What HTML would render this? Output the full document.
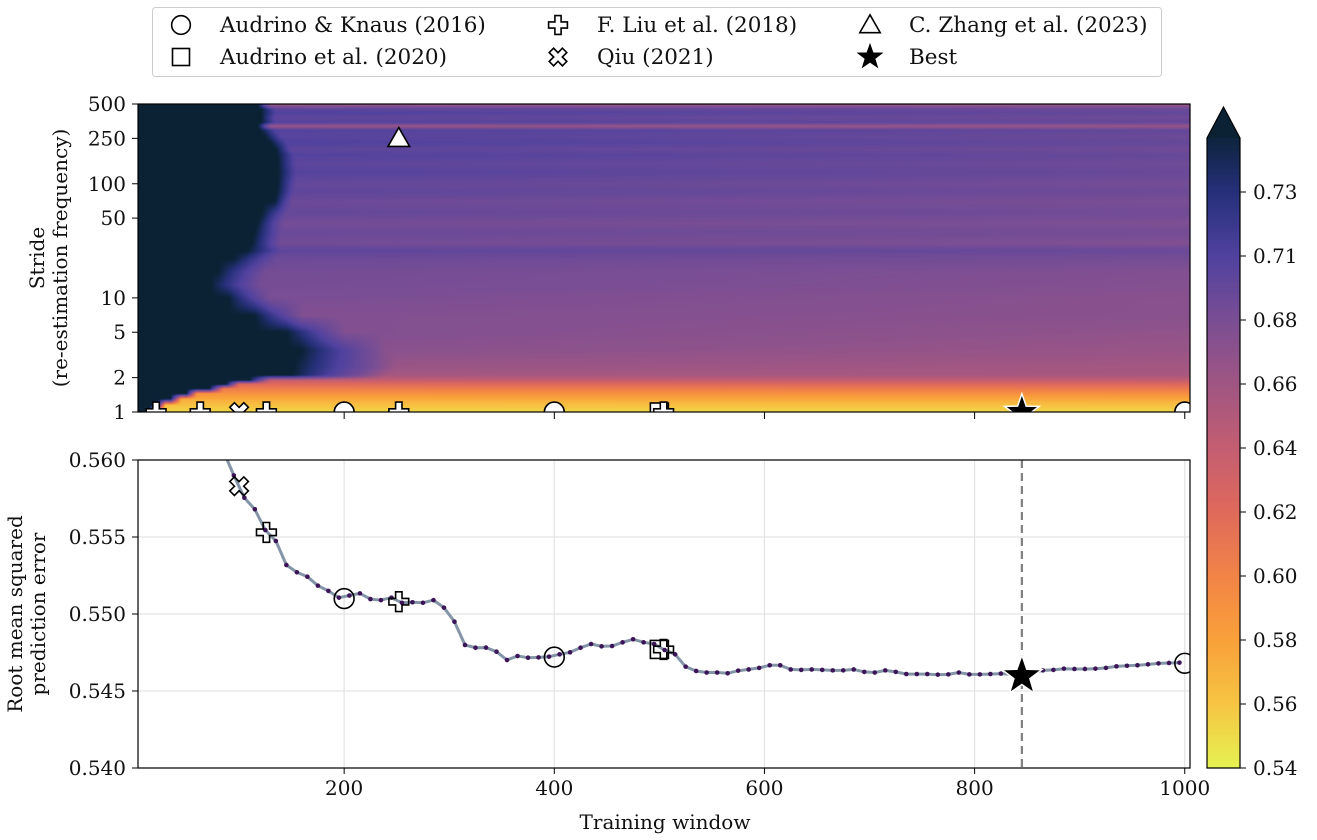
<!DOCTYPE html>
<html><head><meta charset="utf-8">
<style>
html,body{margin:0;padding:0;background:#fff;}
#wrap{position:relative;width:1317px;height:840px;overflow:hidden;font-family:"DejaVu Serif","Liberation Serif",serif;}
#heat{position:absolute;left:138px;top:104px;}
#svg{position:absolute;left:0;top:0;}
text{font-family:"DejaVu Serif","Liberation Serif",serif;font-size:20px;fill:#111;}
text.lg{font-size:21.5px;}
</style></head>
<body>
<div id="wrap">
<canvas id="heat" width="1052" height="308"></canvas>
<svg id="svg" width="1317" height="840" xmlns="http://www.w3.org/2000/svg">
  <defs>
    <clipPath id="clipTop"><rect x="138" y="104" width="1052" height="308"/></clipPath>
    <clipPath id="clipBot"><rect x="138" y="460" width="1052" height="308"/></clipPath>
  </defs>
  <g id="legend"></g>
  <g id="topAxes"></g>
  <g id="botAxes"></g>
  <g id="cbar"></g>
</svg>
</div>
<script>
// ---------- DATA ----------
const xTicks = [200, 400, 600, 800, 1000];
const strideTicks = [1, 2, 5, 10, 50, 100, 250, 500];
const rmseTicks = [0.540, 0.545, 0.550, 0.555, 0.560];
const cbarTicks = ["0.54","0.56","0.58","0.60","0.62","0.64","0.66","0.68","0.71","0.73"];
const cmapVals = [0.54,0.56,0.58,0.60,0.62,0.64,0.66,0.68,0.71,0.73,0.747];
const cmapCols = ["#e6f352","#f6c543","#f9a13a","#f28447","#e06a5b","#c45e72","#a05683","#7a4e94","#50429f","#26307a","#0a2233"];
// heatmap rows (stride): dark-region edge window, transition end window, value near edge, value at far right
const rowStride = [1,1.15,1.3,1.45,1.6,1.75,1.9,2.1,2.5,3.5,5,7,10,13,17,22,26,30,38,45,55,70,85,100,125,150,180,200,230,260,295,320,345,380,420,450,485,500];
const rowEdge   = [15,22,35,50,72,88,110,150,152,159,145,115,90,73,80,95,108,112,115,118,122,134,136,137,137,137,136,135,130,125,120,118,121,121,121,121,118,118];
const rowTrans  = [20,30,45,60,85,100,130,240,250,239,200,160,130,120,125,135,140,140,140,142,145,150,152,155,155,155,152,150,145,140,135,130,135,135,135,135,130,130];
const rowNear   = [0.552,0.562,0.575,0.59,0.605,0.62,0.64,0.657,0.663,0.672,0.676,0.676,0.68,0.683,0.684,0.69,0.70,0.686,0.692,0.684,0.695,0.69,0.70,0.695,0.706,0.70,0.708,0.70,0.71,0.705,0.708,0.662,0.708,0.70,0.71,0.702,0.668,0.668];
const rowFar    = [0.552,0.562,0.577,0.592,0.608,0.622,0.64,0.655,0.658,0.664,0.668,0.672,0.672,0.675,0.676,0.683,0.692,0.676,0.684,0.677,0.686,0.68,0.689,0.684,0.692,0.688,0.694,0.687,0.695,0.69,0.696,0.662,0.695,0.688,0.696,0.69,0.668,0.668];
const darkVal = 0.747;
// bottom line: RMSE vs training window (stride 1)
const lineWindows = [];
for (let w = 85; w <= 995; w += 10) lineWindows.push(w);
const lineRmse = [0.5606,
 0.5590,0.55755,0.5568,0.55545,0.55474,0.55318,0.55271,0.55242,0.55184,0.5515,
 0.55106,0.5512,0.55134,0.55097,0.5509,0.55106,0.55073,0.55076,0.55073,0.5509,
 0.55041,0.5495,0.54799,0.54781,0.54782,0.54755,0.54701,0.54727,0.54716,0.54718,
 0.54723,0.54738,0.54751,0.54781,0.54805,0.5479,0.54792,0.54816,0.54836,0.54816,
 0.54805,0.54766,0.54738,0.54658,0.5463,
 0.5462,0.5462,0.54615,0.54632,0.5464,0.5465,0.54667,0.54667,0.5464,0.54637,
 0.5464,0.54637,0.54634,0.54634,0.5464,0.54624,0.5462,0.54634,0.54624,0.5461,
 0.5461,0.5461,0.54606,0.54608,0.5462,0.54608,0.54608,0.5461,0.54613,0.54608,
 0.54605,0.5462,0.54634,0.54637,0.54645,0.54643,0.54643,0.54645,0.5465,0.5466,
 0.54664,0.54667,0.54673,0.54679,0.54682,0.54684];
// literature markers
const litNames = ["circle","circle","circle","square","plus","plus","plus","plus","plus","x","triangle","star"];
const litWindow = [200,400,1000,500,21,63,126,252,504,100,252,845];
const litStride = [1,1,1,1,1,1,1,1,1,1,250,1];
const litRmse   = [0.5510,0.5472,0.5468,0.5477,null,null,0.5553,0.5508,0.5477,0.5583,null,0.54597];
const bestWindow = 845;

// ---------- SCALES ----------
const X0 = 138, X1 = 1190, wMin = 3.8, wMax = 1005;
const xs = w => X0 + (w - wMin) / (wMax - wMin) * (X1 - X0);
const TT = 104, TB = 412, sMax = 500;
const ys = s => TB - Math.log10(s) / Math.log10(sMax) * (TB - TT);
const BT = 460, BB = 768, rMin = 0.540, rMax = 0.560;
const yr = r => BB - (r - rMin) / (rMax - rMin) * (BB - BT);
const CT = 138, CB = 768;

function hex(c){return [parseInt(c.slice(1,3),16),parseInt(c.slice(3,5),16),parseInt(c.slice(5,7),16)];}
const cmapRGB = cmapCols.map(hex);
function cmap(v){
  if (v <= cmapVals[0]) return cmapRGB[0];
  for (let i=1;i<cmapVals.length;i++){
    if (v <= cmapVals[i]){
      const t=(v-cmapVals[i-1])/(cmapVals[i]-cmapVals[i-1]);
      const a=cmapRGB[i-1], b=cmapRGB[i];
      return [a[0]+(b[0]-a[0])*t,a[1]+(b[1]-a[1])*t,a[2]+(b[2]-a[2])*t];
    }
  }
  return cmapRGB[cmapRGB.length-1];
}
const NS='http://www.w3.org/2000/svg';
function mk(tag, attrs, parent){const e=document.createElementNS(NS,tag);for(const k in attrs)e.setAttribute(k,attrs[k]);if(parent)parent.appendChild(e);return e;}
function txt(parent,x,y,s,anchor,extra){const t=mk('text',Object.assign({x:x,y:y,'text-anchor':anchor||'start'},extra||{}),parent);t.textContent=s;return t;}

// ---------- HEATMAP ----------
(function(){
  const cv=document.getElementById('heat');const ctx=cv.getContext('2d');
  const W=cv.width,H=cv.height;const img=ctx.createImageData(W,H);
  const rowLog=rowStride.map(s=>Math.log10(s));
  const colVals=[];
  for(let px=0;px<W;px++){
    const w=wMin+(px+0.5)/W*(wMax-wMin);
    const vals=[];
    for(let r=0;r<rowStride.length;r++){
      let v;
      if(w<rowEdge[r]) v=darkVal;
      else if(w<rowTrans[r]){const t=(w-rowEdge[r])/(rowTrans[r]-rowEdge[r]);v=darkVal+(rowNear[r]-darkVal)*t;}
      else {const t=Math.min(1,(w-rowTrans[r])/(1000-rowTrans[r]));v=rowNear[r]+(rowFar[r]-rowNear[r])*t;}
      vals.push(v);
    }
    colVals.push(vals);
  }
  for(let py=0;py<H;py++){
    const lg=(TB-(TT+py+0.5))/(TB-TT)*Math.log10(sMax);
    let r=0;while(r<rowLog.length-2&&lg>rowLog[r+1])r++;
    const t=Math.max(0,Math.min(1,(lg-rowLog[r])/(rowLog[r+1]-rowLog[r])));
    for(let px=0;px<W;px++){
      const v=colVals[px][r]*(1-t)+colVals[px][r+1]*t;
      const c=cmap(v);const i=(py*W+px)*4;
      img.data[i]=c[0];img.data[i+1]=c[1];img.data[i+2]=c[2];img.data[i+3]=255;
    }
  }
  ctx.putImageData(img,0,0);
})();

// ---------- MARKERS ----------
function marker(parent,type,cx,cy,size,fill,name){
  let e;const st={fill:fill||'#fff',stroke:'#000','stroke-width':1.6};
  const s=size;
  if(type==='circle') e=mk('circle',Object.assign({cx:cx,cy:cy,r:s*0.55},st),parent);
  else if(type==='square') e=mk('rect',Object.assign({x:cx-s*0.5,y:cy-s*0.5,width:s,height:s},st),parent);
  else if(type==='triangle'){const h=s*0.6;e=mk('polygon',Object.assign({points:`${cx},${cy-h} ${cx+h},${cy+h*0.75} ${cx-h},${cy+h*0.75}`},st),parent);}
  else if(type==='plus'||type==='x'){
    const a=s*0.18,b=s*0.55;
    const p=[[-a,-b],[a,-b],[a,-a],[b,-a],[b,a],[a,a],[a,b],[-a,b],[-a,a],[-b,a],[-b,-a],[-a,-a]];
    const rot=type==='x'?Math.PI/4:0;
    const pts=p.map(q=>{const x=q[0]*Math.cos(rot)-q[1]*Math.sin(rot),y=q[0]*Math.sin(rot)+q[1]*Math.cos(rot);return (cx+x).toFixed(1)+','+(cy+y).toFixed(1);}).join(' ');
    e=mk('polygon',Object.assign({points:pts},st),parent);
  } else if(type==='star'){
    const pts=[];for(let k=0;k<10;k++){const ang=-Math.PI/2+k*Math.PI/5;const rr=k%2?s*0.28:s*0.7;pts.push((cx+rr*Math.cos(ang)).toFixed(1)+','+(cy+rr*Math.sin(ang)).toFixed(1));}
    e=mk('polygon',{points:pts.join(' '),fill:'#000',stroke:fill||'#fff','stroke-width':1.5},parent);
  }
  
  
  return e;
}

// ---------- LEGEND ----------
(function(){
  const g=document.getElementById('legend');
  const box=mk('rect',{x:152.5,y:7.5,width:1009,height:69,rx:3,fill:'#fff',stroke:'#ccc','stroke-width':1},g);
  
  const items=[["circle","Audrino & Knaus (2016)",181,25],["square","Audrino et al. (2020)",181,57],
    ["plus","F. Liu et al. (2018)",558,25],["x","Qiu (2021)",558,57],["triangle","C. Zhang et al. (2023)",870,25],["star","Best",870,57]];
  items.forEach(it=>{
    marker(g,it[0],it[2],it[3],17,it[0]==='star'?'#000':'#fff','legend-marker-'+it[0]);
    const t=txt(g,it[2]+39,it[3]+7,it[1],'start',{'class':'lg'});
    
  });
})();

// ---------- TOP AXES ----------
(function(){
  const g=document.getElementById('topAxes');
  const m=mk('g',{'clip-path':'url(#clipTop)'},g);
  litNames.forEach((n,i)=>{
    if(litStride[i]==null)return;
    marker(m,n,xs(litWindow[i]),ys(litStride[i]),n==='star'?26:18,'#fff','heatmap-marker-'+n);
  });
  const fr=mk('rect',{x:138,y:104,width:1052,height:308,fill:'none',stroke:'#000','stroke-width':1.2},g);
  
  strideTicks.forEach(s=>{
    const y=ys(s);mk('line',{x1:132,x2:138,y1:y,y2:y,stroke:'#000','stroke-width':1},g);
    const t=txt(g,126,y+7,String(s),'end');
  });
  xTicks.forEach(w=>{const x=xs(w);mk('line',{x1:x,x2:x,y1:412,y2:419,stroke:'#000','stroke-width':1},g);});
  const yl=mk('text',{transform:'translate(44,258) rotate(-90)','text-anchor':'middle'},g);
  
  yl.textContent='Stride';
  const yl2=mk('text',{transform:'translate(67,258) rotate(-90)','text-anchor':'middle'},g);
  
  yl2.textContent='(re-estimation frequency)';
})();

// ---------- BOTTOM AXES ----------
(function(){
  const g=document.getElementById('botAxes');
  xTicks.forEach(w=>{const x=xs(w);mk('line',{x1:x,x2:x,y1:BT,y2:BB,stroke:'#e3e3e3','stroke-width':1.2},g);});
  rmseTicks.forEach(r=>{const y=yr(r);mk('line',{x1:X0,x2:X1,y1:y,y2:y,stroke:'#e3e3e3','stroke-width':1.2},g);});
  const c=mk('g',{'clip-path':'url(#clipBot)'},g);
  const vl=mk('line',{x1:xs(bestWindow),x2:xs(bestWindow),y1:BT,y2:BB,stroke:'#808080','stroke-width':2.2,'stroke-dasharray':'8,5'},c);
  
  const d=lineWindows.map((w,i)=>(i?'L':'M')+xs(w).toFixed(1)+','+yr(lineRmse[i]).toFixed(1)).join(' ');
  const pl=mk('path',{d:d,fill:'none',stroke:'#8595a8','stroke-width':3,'stroke-linejoin':'round'},c);
  
  lineWindows.forEach((w,i)=>{
    const p=mk('circle',{cx:xs(w),cy:yr(lineRmse[i]),r:2.3,fill:'#3b1557'},c);
    
  });
  litNames.forEach((n,i)=>{
    if(litRmse[i]==null)return;
    marker(c,n,xs(litWindow[i]),yr(litRmse[i]),n==='star'?30:18,n==='star'?'#fff':'none','rmse-marker-'+n);
  });
  const fr=mk('rect',{x:138,y:460,width:1052,height:308,fill:'none',stroke:'#000','stroke-width':1.2},g);
  
  rmseTicks.forEach(r=>{const y=yr(r);mk('line',{x1:132,x2:138,y1:y,y2:y,stroke:'#000'},g);
    const t=txt(g,126,y+7,r.toFixed(3),'end');});
  xTicks.forEach(w=>{const x=xs(w);mk('line',{x1:x,x2:x,y1:BB,y2:BB+6,stroke:'#000'},g);
    const t=txt(g,x,BB+27,String(w),'middle');});
  const xl=txt(g,665,829,'Training window','middle');
  const a=mk('text',{transform:'translate(22,614) rotate(-90)','text-anchor':'middle'},g);a.textContent='Root mean squared';
  
  const b=mk('text',{transform:'translate(45,614) rotate(-90)','text-anchor':'middle'},g);b.textContent='prediction error';
  
})();

// ---------- COLORBAR ----------
(function(){
  const g=document.getElementById('cbar');
  const L=1207,R=1240;
  const step=64;
  for(let y=CT;y<CB;y++){
    const pos=(CB-y-0.5)/step;
    let v;const k=Math.floor(pos);const f=pos-k;
    if(k>=cmapVals.length-1)v=cmapVals[cmapVals.length-1];
    else v=cmapVals[k]+(cmapVals[k+1]-cmapVals[k])*f;
    const c=cmap(v);
    mk('rect',{x:L,y:y,width:R-L,height:1.2,fill:`rgb(${c[0]|0},${c[1]|0},${c[2]|0})`},g);
  }
  const tri=mk('polygon',{points:`${L},${CT} ${R},${CT} ${(L+R)/2},107`,fill:'#0a2233'},g);
  
  const o=mk('path',{d:`M${L},${CB} L${L},${CT} L${(L+R)/2},107 L${R},${CT} L${R},${CB} Z`,fill:'none',stroke:'#000','stroke-width':1.2},g);
  
  cbarTicks.forEach((s,i)=>{const y=CB-i*step;mk('line',{x1:R,x2:R+6,y1:y,y2:y,stroke:'#000'},g);
    const t=txt(g,R+13,y+7,s);});
})();
</script>
</body></html>
